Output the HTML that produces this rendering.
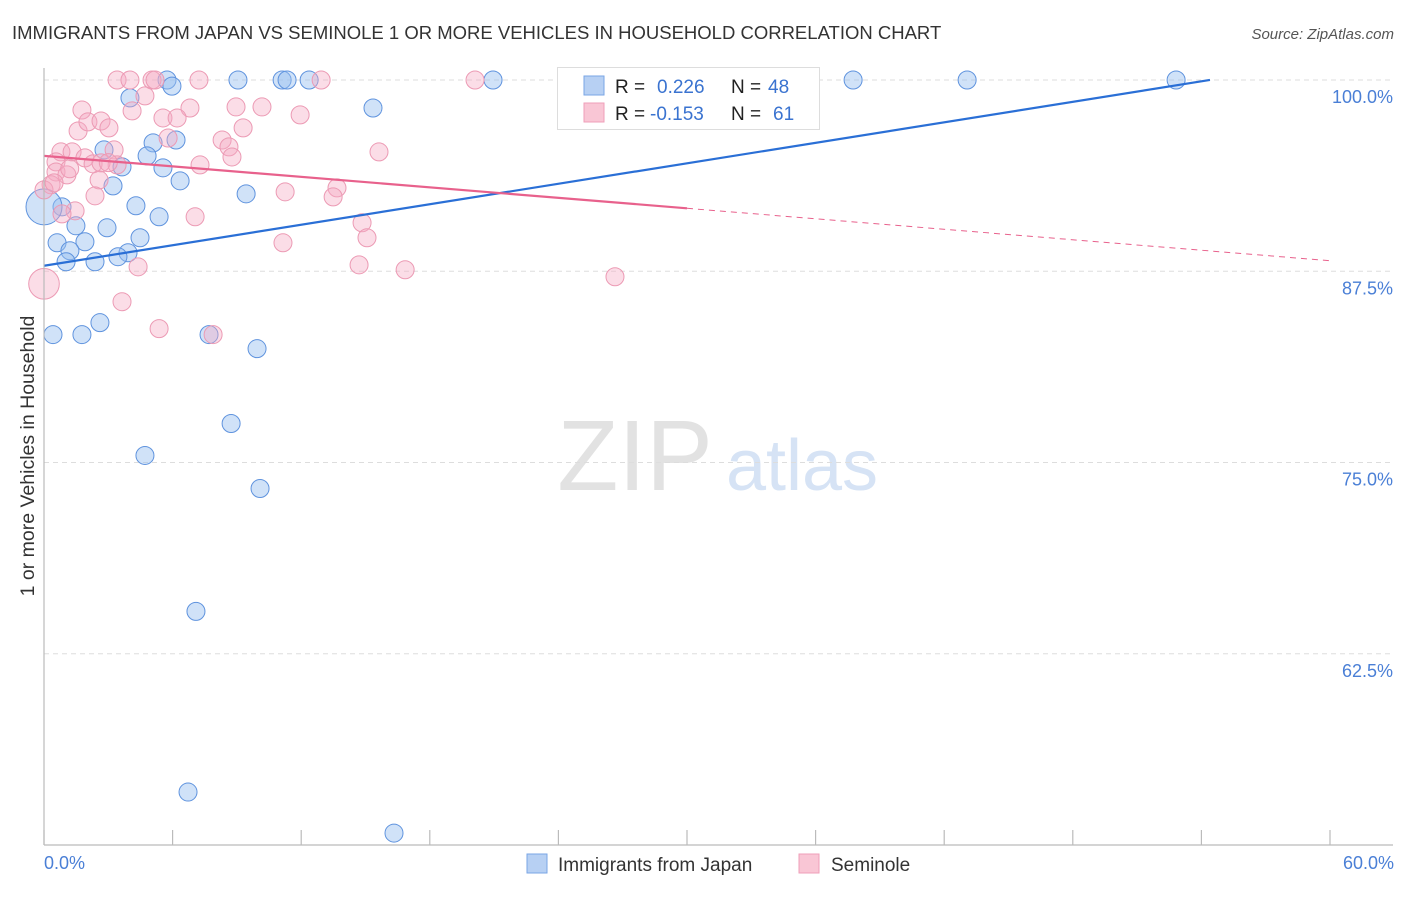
<!DOCTYPE html>
<html><head><meta charset="utf-8"><style>
body{margin:0;background:#fff;font-family:"Liberation Sans",sans-serif;}
svg text{font-family:"Liberation Sans",sans-serif;}
</style></head><body>
<svg id="chart" width="1406" height="892" xmlns="http://www.w3.org/2000/svg">
<text x="12" y="39" font-size="18.5" fill="#333">IMMIGRANTS FROM JAPAN VS SEMINOLE 1 OR MORE VEHICLES IN HOUSEHOLD CORRELATION CHART</text>
<text x="1394" y="39" font-size="15" fill="#555" font-style="italic" text-anchor="end">Source: ZipAtlas.com</text>
<text transform="translate(34,456) rotate(-90)" font-size="19.5" fill="#333" text-anchor="middle">1 or more Vehicles in Household</text>
<g>
<text x="635" y="490" font-size="100" fill="#e2e2e2" font-family="Liberation Serif" text-anchor="middle">ZIP</text>
<text x="802" y="490" font-size="72" fill="#d6e3f5" text-anchor="middle">atlas</text>
</g>
<g id="grid"></g><g id="ticks"></g><g id="pts"></g><g id="trends"></g>
<line x1="44" y1="68" x2="44" y2="845" stroke="#bbb" stroke-width="1.2"/>
<line x1="44" y1="845" x2="1393" y2="845" stroke="#bbb" stroke-width="1.2"/>
<text x="44" y="869" font-size="18" fill="#4a7fd6">0.0%</text>
<text x="1394" y="869" font-size="18" fill="#4a7fd6" text-anchor="end">60.0%</text>
<g>
<rect x="557.5" y="67.5" width="262" height="62" fill="#fff" stroke="#ddd"/>
<rect x="584" y="76" width="20" height="19" fill="#b7d0f3" stroke="#7aa6e6"/>
<rect x="584" y="103" width="20" height="19" fill="#f9c6d5" stroke="#ef9fb9"/>
<text x="615" y="93" font-size="19" fill="#222">R = </text><text x="657" y="93" font-size="19" fill="#3a73d0">0.226</text>
<text x="731" y="93" font-size="19" fill="#222">N = </text><text x="768" y="93" font-size="19" fill="#3a73d0">48</text>
<text x="615" y="120" font-size="19" fill="#222">R = </text><text x="650" y="120" font-size="19" fill="#3a73d0">-0.153</text>
<text x="731" y="120" font-size="19" fill="#222">N = </text><text x="773" y="120" font-size="19" fill="#3a73d0">61</text>
</g>
<g>
<rect x="527" y="854" width="20" height="19" fill="#b7d0f3" stroke="#7aa6e6"/>
<text x="558" y="871" font-size="19" fill="#333">Immigrants from Japan</text>
<rect x="799" y="854" width="20" height="19" fill="#f9c6d5" stroke="#ef9fb9"/>
<text x="831" y="871" font-size="19" fill="#333">Seminole</text>
</g>
</svg>
<script>
const yTicks=[100,87.5,75,62.5];
const yTickLabels=["100.0%","87.5%","75.0%","62.5%"];
const xTickVals=[0,6,12,18,24,30,36,42,48,54,60];
const japanX=[5.74,5.97,9.05,11.11,11.34,12.37,20.95,37.75,43.07,52.82,34.35,4.01,15.35,5.09,6.16,4.81,2.80,3.64,5.55,6.35,3.22,9.43,0.84,4.29,5.37,1.49,2.94,4.48,0.61,1.91,1.21,3.92,3.45,1.03,2.38,0,2.61,0.42,1.77,7.70,9.94,8.73,4.71,10.08,7.09,6.72,16.33];
const japanY=[100,99.6,100,100,100,100,100,100,100,100,100,98.83,98.17,95.89,96.08,95.04,95.43,94.32,94.26,93.41,93.08,92.56,91.71,91.78,91.06,90.47,90.34,89.69,89.36,89.43,88.84,88.71,88.45,88.12,88.12,91.71,84.14,83.36,83.36,83.36,82.44,77.55,75.46,73.30,65.27,53.46,50.78];
const japanSize=[1,1,1,1,1,1,1,1,1,1,1,1,1,1,1,1,1,1,1,1,1,1,1,1,1,1,1,1,1,1,1,1,1,1,1,2,1,1,1,1,1,1,1,1,1,1,1];
const semX=[3.41,4.01,5.04,5.18,7.23,12.93,20.11,4.71,1.77,4.11,6.81,8.96,10.17,11.95,1.59,2.05,2.66,3.03,5.55,6.21,9.29,5.79,8.31,8.63,8.77,0.79,1.31,0.56,1.91,3.27,3.41,2.29,2.66,7.28,15.63,0.56,1.07,2.57,0.33,0,0.47,2.38,11.25,13.67,13.49,1.45,0.84,7.05,14.84,15.07,11.15,4.39,14.70,16.85,26.64,0,3.64,5.37,7.89,1.2,3.0];
const semY=[100,100,100,100,100,100,100,98.96,98.04,97.98,98.17,98.24,98.24,97.72,96.67,97.26,97.32,96.87,97.52,97.52,96.87,96.21,96.08,95.63,94.97,95.30,95.30,94.65,94.91,95.43,94.45,94.52,94.58,94.45,95.30,93.99,93.80,93.47,93.15,92.82,93.28,92.43,92.69,92.95,92.36,91.45,91.25,91.06,90.67,89.69,89.36,87.79,87.92,87.60,87.14,86.68,85.51,83.75,83.36,94.2,94.6];
const semSize=[1,1,1,1,1,1,1,1,1,1,1,1,1,1,1,1,1,1,1,1,1,1,1,1,1,1,1,1,1,1,1,1,1,1,1,1,1,1,1,1,1,1,1,1,1,1,1,1,1,1,1,1,1,1,1,1.7,1,1,1,1,1];
const japanTrend=[87.86,0.2232,0,54.4];
const semTrend=[95.04,-0.1142,0,30,60];

const NS="http://www.w3.org/2000/svg";
const X=v=>44+v*(1286/60);
const Y=v=>80+(100-v)*(765/50);
function mk(tag,attrs,parent){const e=document.createElementNS(NS,tag);for(const k in attrs)e.setAttribute(k,attrs[k]);parent.appendChild(e);return e;}
const grid=document.getElementById('grid'),ticks=document.getElementById('ticks'),pts=document.getElementById('pts'),tr=document.getElementById('trends');
yTicks.forEach((t,i)=>{
 const l=mk('line',{x1:44,x2:1393,y1:Y(t),y2:Y(t),stroke:'#ddd','stroke-dasharray':'5,4'},grid);
 
 
 const tx=mk('text',{x:1393,y:Y(t)+23,'font-size':18,fill:'#4a7fd6','text-anchor':'end'},grid);
 tx.textContent=yTickLabels[i];
 
 
});
xTickVals.forEach(t=>{
 const l=mk('line',{x1:X(t),x2:X(t),y1:830,y2:845,stroke:'#bbb','stroke-width':1.2},ticks);
 
 
});
japanX.forEach((v,i)=>{
 const c=mk('circle',{cx:X(v),cy:Y(japanY[i]),r:9*japanSize[i],fill:'rgba(150,190,240,0.45)',stroke:'#5f93de','stroke-width':1},pts);
 
 
});
semX.forEach((v,i)=>{
 const c=mk('circle',{cx:X(v),cy:Y(semY[i]),r:9*semSize[i],fill:'rgba(246,170,195,0.4)',stroke:'#ec9ab4','stroke-width':1},pts);
 
 
});
const jl=mk('line',{x1:X(japanTrend[2]),y1:Y(japanTrend[0]+japanTrend[1]*japanTrend[2]),x2:X(japanTrend[3]),y2:Y(japanTrend[0]+japanTrend[1]*japanTrend[3]),stroke:'#2a6fd6','stroke-width':2.2},tr);


const sl=mk('line',{x1:X(semTrend[2]),y1:Y(semTrend[0]+semTrend[1]*semTrend[2]),x2:X(semTrend[3]),y2:Y(semTrend[0]+semTrend[1]*semTrend[3]),stroke:'#e8618c','stroke-width':2.2},tr);


const sd=mk('line',{x1:X(semTrend[3]),y1:Y(semTrend[0]+semTrend[1]*semTrend[3]),x2:X(semTrend[4]),y2:Y(semTrend[0]+semTrend[1]*semTrend[4]),stroke:'#e8618c','stroke-width':1,'stroke-dasharray':'6,5'},tr);


</script>
</body></html>
